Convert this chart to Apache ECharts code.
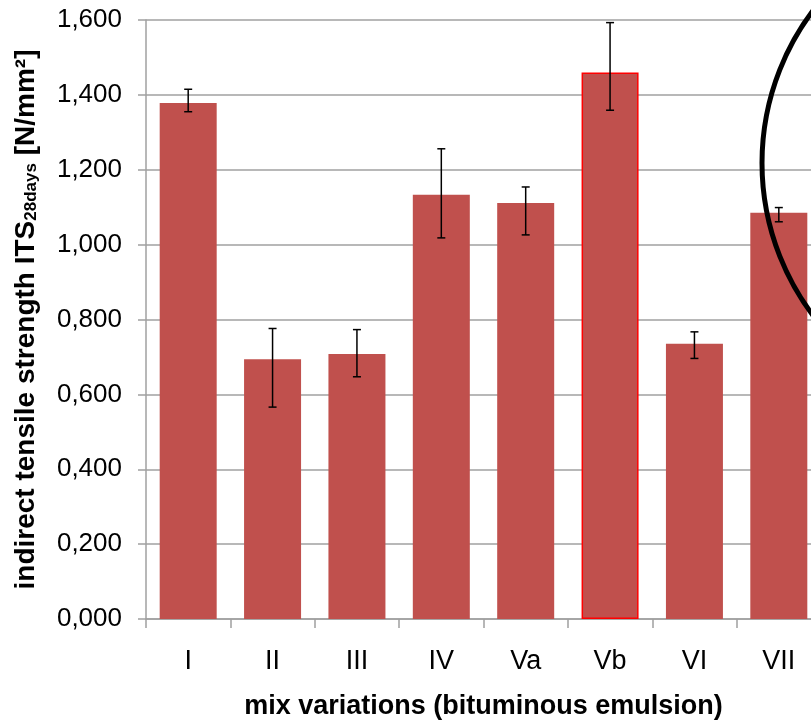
<!DOCTYPE html>
<html>
<head>
<meta charset="utf-8">
<script src="https://cdn.jsdelivr.net/npm/echarts@6/dist/echarts.min.js"></script>
<style>
  html, body { margin: 0; padding: 0; background: #fff; }
  #main { width: 811px; height: 720px; }
</style>
</head>
<body>
<div id="main"></div>
<script>
// mix variations and ITS after 28 days [N/mm²]
var categories = ['I', 'II', 'III', 'IV', 'Va', 'Vb', 'VI', 'VII'];
var itsMean = [1.378, 0.694, 0.708, 1.133, 1.111, 1.460, 0.735, 1.085];
var errLow  = [1.355, 0.566, 0.647, 1.018, 1.026, 1.359, 0.696, 1.061];
var errHigh = [1.415, 0.776, 0.773, 1.256, 1.154, 1.593, 0.767, 1.099];
var yTicks = [0, 0.2, 0.4, 0.6, 0.8, 1.0, 1.2, 1.4, 1.6];

var font = 'Liberation Sans, Arial, sans-serif';

var barData = itsMean.map(function (v, i) {
    var item = { value: v };
    if (categories[i] === 'Vb') {
        item.itemStyle = { borderColor: '#ff0000', borderWidth: 1.5 };
    }
    return item;
});

var errData = categories.map(function (c, i) {
    return [i, errLow[i], errHigh[i]];
});

function renderErr(params, api) {
    var lo = api.coord([api.value(0), api.value(1)]);
    var hi = api.coord([api.value(0), api.value(2)]);
    var cap = 4;
    var st = { stroke: '#000', lineWidth: 1.5 };
    return {
        type: 'group',
        children: [
            { type: 'line', shape: { x1: lo[0], y1: lo[1], x2: hi[0], y2: hi[1] }, style: st },
            { type: 'line', shape: { x1: lo[0] - cap, y1: lo[1], x2: lo[0] + cap, y2: lo[1] }, style: st },
            { type: 'line', shape: { x1: hi[0] - cap, y1: hi[1], x2: hi[0] + cap, y2: hi[1] }, style: st }
        ]
    };
}

option = {
    animation: false,
    backgroundColor: '#fff',
    grid: {
        left: 146,
        top: 20,
        width: 675,
        height: 599,
        outerBoundsMode: 'none'
    },
    xAxis: {
        type: 'category',
        data: categories,
        name: 'mix variations (bituminous emulsion)',
        nameLocation: 'middle',
        nameGap: 74,
        nameTextStyle: { fontFamily: font, fontSize: 27, fontWeight: 'bold', color: '#000' },
        axisLine: { lineStyle: { color: '#a0a0a0', width: 1.5 } },
        axisTick: { show: true, length: 9, lineStyle: { color: '#a0a0a0', width: 1.5 } },
        axisLabel: { fontFamily: font, fontSize: 27, color: '#000', margin: 29 }
    },
    yAxis: {
        type: 'value',
        min: yTicks[0],
        max: yTicks[yTicks.length - 1],
        interval: 0.2,
        name: '{b|indirect tensile strength ITS}{s|28days}{b| [N/mm²]}',
        nameLocation: 'middle',
        nameGap: 106,
        nameRotate: 90,
        nameTextStyle: {
            rich: {
                b: { fontFamily: font, fontSize: 28, fontWeight: 'bold', color: '#000', lineHeight: 32, verticalAlign: 'bottom' },
                s: { fontFamily: font, fontSize: 17, fontWeight: 'bold', color: '#000', lineHeight: 32, verticalAlign: 'bottom' }
            }
        },
        axisLine: { show: true, lineStyle: { color: '#a0a0a0', width: 1.5 } },
        axisTick: { show: true, length: 8, lineStyle: { color: '#a0a0a0', width: 1.5 } },
        axisLabel: {
            fontFamily: font, fontSize: 26, color: '#000', margin: 24,
            formatter: function (v) { return v.toFixed(3).replace('.', ','); }
        },
        splitLine: { show: true, lineStyle: { color: '#a0a0a0', width: 1.5 } }
    },
    series: [
        {
            name: 'ITS 28 days',
            type: 'bar',
            data: barData,
            barWidth: 57,
            itemStyle: { color: '#c0504d' }
        },
        {
            name: 'error',
            type: 'custom',
            data: errData,
            renderItem: renderErr,
            z: 5
        }
    ],
    graphic: [
        {
            type: 'circle',
            shape: { cx: 1015, cy: 163, r: 253 },
            style: { fill: 'none', stroke: '#000', lineWidth: 5 },
            z: 100
        }
    ]
};

var chartContainer = document.getElementById('main');
var myChart = echarts.init(chartContainer);
myChart.setOption(option);
</script>
</body>
</html>
